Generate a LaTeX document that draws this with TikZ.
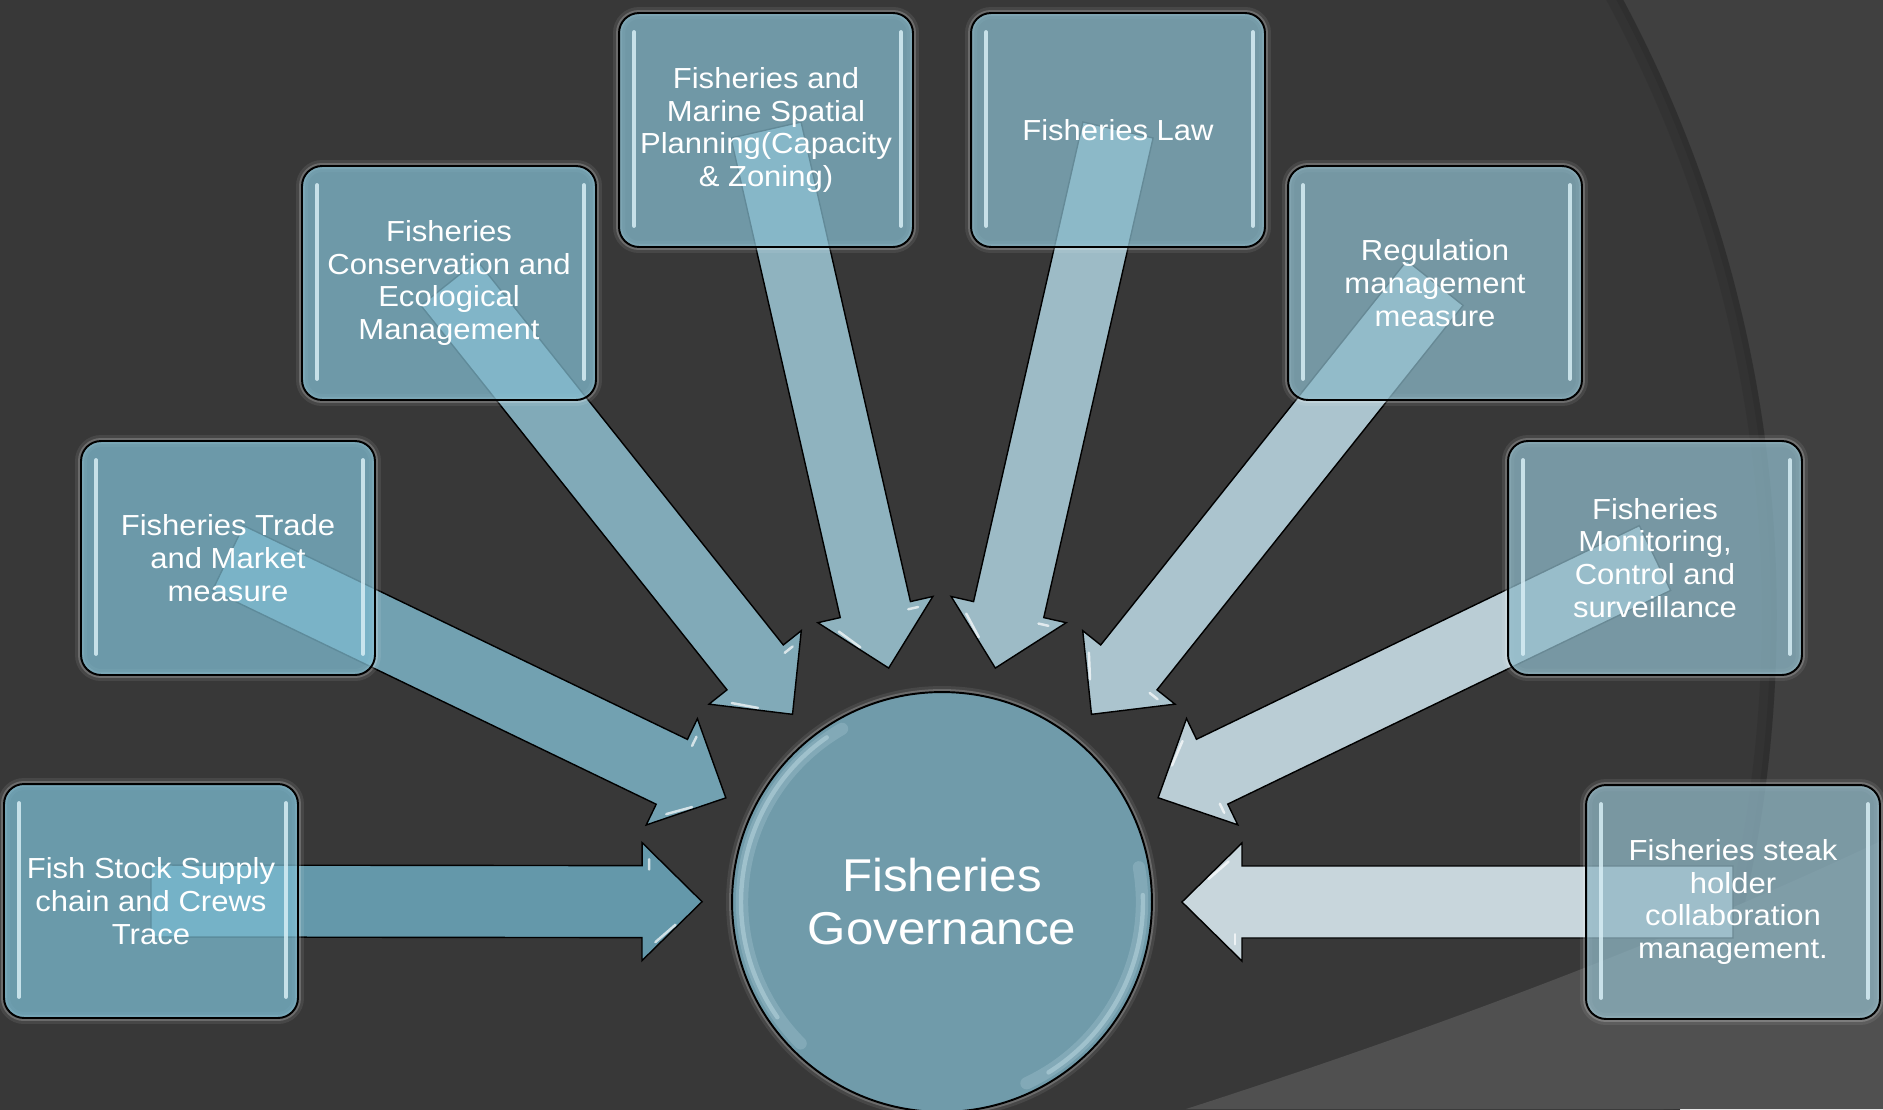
\documentclass[tikz,border=0pt]{standalone}
\usepackage{fontspec}
\setmainfont[FakeStretch=1.07]{Liberation Sans}
\usetikzlibrary{calc}

\definecolor{bgdark}{RGB}{56,56,56}
\definecolor{bgmid}{RGB}{64,64,64}
\definecolor{bglight}{RGB}{80,80,80}
\definecolor{boxL}{RGB}{123,187,209}
\definecolor{boxR}{RGB}{144,183,197}
\definecolor{arrL}{RGB}{100,152,170}
\definecolor{arrR}{RGB}{200,214,220}
\definecolor{govfill}{RGB}{112,155,170}
\definecolor{gloss}{RGB}{215,238,245}

\pgfdeclarelayer{bg}
\pgfdeclarelayer{arrows}
\pgfsetlayers{bg,arrows,main}

\tikzset{
	glow/.style={preaction={draw=white, line width=0.24cm, opacity=0.08},
		preaction={draw=white, line width=0.12cm, opacity=0.2}},
	topic/.style={rectangle, rounded corners=0.4cm, minimum width=5.88cm, minimum height=4.68cm,
		draw=black, line width=1.1pt, fill=#1, fill opacity=0.75, text opacity=1, text=white,
		align=center, font=\fontsize{16.5}{18.7}\selectfont, glow},
	hub/.style={circle, minimum size=8.4cm, draw=black, line width=1.1pt, fill=govfill,
		text=white, align=center, font=\fontsize{26.2}{30.2}\selectfont, glow},
	arrowbody/.style={draw=black, line width=0.8pt, line join=miter},
	glossline/.style={draw=gloss, line width=2.2pt, line cap=round, opacity=0.85},
	shine/.style={draw=white, line width=1.4pt, line cap=round, opacity=0.7}
}

% block arrow from a topic box to the hub
\newcommand{\govarrow}[2]{%
	\coordinate (tp) at ($(gov)!4.8cm!(#1)$);
	\coordinate (hb) at ($(gov)!6cm!(#1)$);
	\coordinate (hi) at ($(hb)!0.14cm!(tp)$);
	\filldraw[arrowbody, fill=#2] ($(#1)!0.72cm!-90:(gov)$) -- ($(hb)!0.72cm!90:(#1)$)
		-- ($(hb)!1.18cm!90:(#1)$) -- (tp) -- ($(hb)!1.18cm!-90:(#1)$)
		-- ($(hb)!0.72cm!-90:(#1)$) -- ($(#1)!0.72cm!90:(gov)$) -- cycle;
	\coordinate (i1) at ($(hi)!0.92cm!90:(#1)$);
	\coordinate (i2) at ($(hi)!0.92cm!-90:(#1)$);
	\draw[shine] ($(i1)!0.12!(tp)$) -- ($(i1)!0.5!(tp)$);
	\draw[shine] ($(i2)!0.08!(hi)$) -- ($(i2)!0.3!(hi)$);
}

\begin{document}
\begin{tikzpicture}[x=0.02cm, y=-0.02cm]
	\useasboundingbox (0,0) rectangle (1883,1109);

	% background
	\begin{pgfonlayer}{bg}
		\fill[bgmid] (0,0) rectangle (1883,1109);
		\begin{scope}
			\clip (0,0) rectangle (1883,1109);
			\fill[bgdark] (470,615) circle[radius=26.14cm];
			\draw[black, opacity=0.08, line width=0.3cm] (470,615) circle[radius=25.99cm];
			\draw[black, opacity=0.08, line width=0.12cm] (470,615) circle[radius=26.08cm];
			\fill[bglight] (1186,1109) .. controls (1400,1040) and (1650,950) .. (1883,840) -- (1883,1109) -- cycle;
		\end{scope}
	\end{pgfonlayer}

	\node[hub] (gov) at (942,902) {Fisheries\\Governance};

	\node[topic=boxL] (fish) at (151,901) {Fish Stock Supply\\chain and Crews\\Trace};
	\node[topic=boxL!86!boxR] (trade) at (228,558) {Fisheries Trade\\and Market\\measure};
	\node[topic=boxL!71!boxR] (conserv) at (449,283) {Fisheries\\Conservation and\\Ecological\\Management};
	\node[topic=boxL!57!boxR] (spatial) at (766,130) {Fisheries and\\Marine Spatial\\Planning(Capacity\\\& Zoning)};
	\node[topic=boxL!43!boxR] (law) at (1118,130) {Fisheries Law};
	\node[topic=boxL!29!boxR] (regul) at (1435,283) {Regulation\\management\\measure};
	\node[topic=boxL!14!boxR] (monitor) at (1655,558) {Fisheries\\Monitoring,\\Control and\\surveillance};
	\node[topic=boxR] (steak) at (1733,902) {Fisheries steak\\holder\\collaboration\\management.};

	% arrows under the boxes
	\begin{pgfonlayer}{arrows}
		\foreach \b/\k in {fish/0, trade/14, conserv/29, spatial/43, law/57, regul/71, monitor/86, steak/100}
			{\govarrow{\b}{arrR!\k!arrL}}
	\end{pgfonlayer}

	% gloss
	\foreach \b in {fish, trade, conserv, spatial, law, regul, monitor, steak} {
		\draw[glossline] ([xshift=0.32cm,yshift=-0.4cm]\b.north west) -- ([xshift=0.32cm,yshift=0.44cm]\b.south west);
		\draw[glossline] ([xshift=-0.26cm,yshift=-0.4cm]\b.north east) -- ([xshift=-0.26cm,yshift=0.44cm]\b.south east);
	}
	\draw[glossline, opacity=0.18, line width=7pt] ($(gov)+(120:4.0cm)$) arc[start angle=120, end angle=225, radius=4.0cm];
	\draw[glossline, opacity=0.35, line width=2.5pt] ($(gov)+(125:4.02cm)$) arc[start angle=125, end angle=215, radius=4.02cm];
	\draw[glossline, opacity=0.18, line width=7pt] ($(gov)+(-65:4.0cm)$) arc[start angle=-65, end angle=10, radius=4.0cm];
	\draw[glossline, opacity=0.35, line width=2.5pt] ($(gov)+(-58:4.02cm)$) arc[start angle=-58, end angle=2, radius=4.02cm];
\end{tikzpicture}
\end{document}
